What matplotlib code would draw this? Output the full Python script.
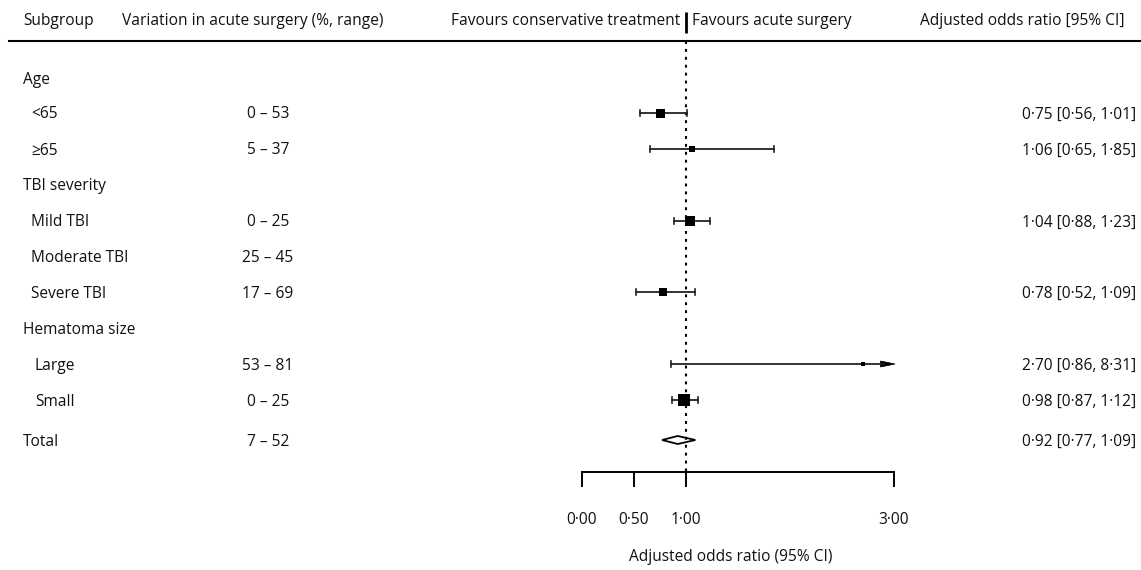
import numpy as np
import matplotlib
matplotlib.use("Agg")
import matplotlib.pyplot as plt
from matplotlib.patches import Polygon

# ---------------- data ----------------
row_labels = ["Age", "<65", "\u226565", "TBI severity", "Mild TBI", "Moderate TBI",
              "Severe TBI", "Hematoma size", "Large", "Small", "Total"]
row_is_header = [True, False, False, True, False, False, False, True, False, False, True]
variation = ["", "0 \u2013 53", "5 \u2013 37", "", "0 \u2013 25", "25 \u2013 45",
             "17 \u2013 69", "", "53 \u2013 81", "0 \u2013 25", "7 \u2013 52"]
odds_ratio = [np.nan, 0.75, 1.06, np.nan, 1.04, np.nan, 0.78, np.nan, 2.70, 0.98, 0.92]
ci_low = [np.nan, 0.56, 0.65, np.nan, 0.88, np.nan, 0.52, np.nan, 0.86, 0.87, 0.77]
ci_high = [np.nan, 1.01, 1.85, np.nan, 1.23, np.nan, 1.09, np.nan, 8.31, 1.12, 1.09]
xticks = [0.0, 0.5, 1.0, 3.0]
xtick_labels = ["0\u00b700", "0\u00b750", "1\u00b700", "3\u00b700"]

# ---------------- style / layout ----------------
W, H = 1141, 570
FONT = "Open Sans"
FS = 11.2
marker_px = [0, 9, 6.5, 0, 10, 0, 8, 0, 4, 12, 0]   # square side in pixels
row_y = [78, 113, 149, 185, 221, 256, 292, 328, 364, 400, 440]  # pixel rows
TXT_DY = 1.5
px0, px_per_unit = 582.0, 104.0   # pixel of OR=0 and pixels per OR unit
axis_max = 3.0

plt.rcParams['font.family'] = [FONT, 'DejaVu Sans']
fig = plt.figure(figsize=(W / 100, H / 100), dpi=100)
ax = fig.add_axes([0, 0, 1, 1])
ax.set_xlim(-px0 / px_per_unit, (W - px0) / px_per_unit)
ax.set_ylim(H, 0)
ax.axis("off")

def xpx(p):
    return (p - px0) / px_per_unit

tt = dict(fontsize=FS, color="#111111", va="center")

# headers
hy = 21
ax.text(xpx(23), hy, "Subgroup", ha="left", **tt)
ax.text(xpx(122), hy, "Variation in acute surgery (%, range)", ha="left", **tt)
ax.text(xpx(680), hy, "Favours conservative treatment", ha="right", **tt)
ax.text(xpx(692), hy, "Favours acute surgery", ha="left", **tt)
ax.plot([1.0, 1.0], [12, 33], color="black", lw=2, solid_capstyle="butt")
ax.text(xpx(1125), hy, "Adjusted odds ratio [95% CI]", ha="right", **tt)
ax.plot([xpx(9), xpx(W)], [41, 41], color="black", lw=1.5)

# reference line
axis_y = 472
ax.plot([1.0, 1.0], [41, axis_y], color="black", lw=1.5, linestyle=(0, (1.4, 2.4)))

for i, lab in enumerate(row_labels):
    y = row_y[i]
    indent = 23 if row_is_header[i] else (35 if i in (8, 9) else 31)
    ax.text(xpx(indent), y + TXT_DY, lab, ha="left", **tt)
    if variation[i]:
        ax.text(xpx(268), y + TXT_DY, variation[i], ha="center", **tt)
    orv = odds_ratio[i]
    if np.isnan(orv):
        continue
    lo, hi = ci_low[i], ci_high[i]
    txt = f"{orv:.2f} [{lo:.2f}, {hi:.2f}]".replace(".", "\u00b7")
    ax.text(xpx(1136), y + TXT_DY, txt, ha="right", **tt)
    if lab == "Total":
        hh = 4.0
        ax.add_patch(Polygon([[lo, y], [orv, y - hh], [hi, y], [orv, y + hh]],
                             closed=True, facecolor="white", edgecolor="black", lw=1.3))
        continue
    cap = 3.0
    if hi > axis_max:
        ax.plot([lo, axis_max - 0.1], [y, y], color="#222222", lw=1.3)
        ax.add_patch(Polygon([[axis_max - 0.13, y - 3], [axis_max + 0.01, y],
                              [axis_max - 0.13, y + 3]], closed=True,
                             facecolor="black", edgecolor="black", lw=0.5))
        ax.plot([lo, lo], [y - cap, y + cap], color="#222222", lw=1.2)
    else:
        ax.plot([lo, hi], [y, y], color="#222222", lw=1.3)
        for e in (lo, hi):
            ax.plot([e, e], [y - cap, y + cap], color="#222222", lw=1.2)
    ax.plot([orv], [y], marker="s", markersize=marker_px[i] * 0.72,
            color="black", markeredgewidth=0, linestyle="none")

# bottom axis
ax.plot([xticks[0], xticks[-1]], [axis_y, axis_y], color="black", lw=1.4)
for t, tl in zip(xticks, xtick_labels):
    ax.plot([t, t], [axis_y, axis_y + 14], color="black", lw=1.4)
    ax.text(t, 520, tl, ha="center", **tt)
ax.text(xpx(731), 557, "Adjusted odds ratio (95% CI)", ha="center", **tt)

fig.savefig("out.png", dpi=100)
